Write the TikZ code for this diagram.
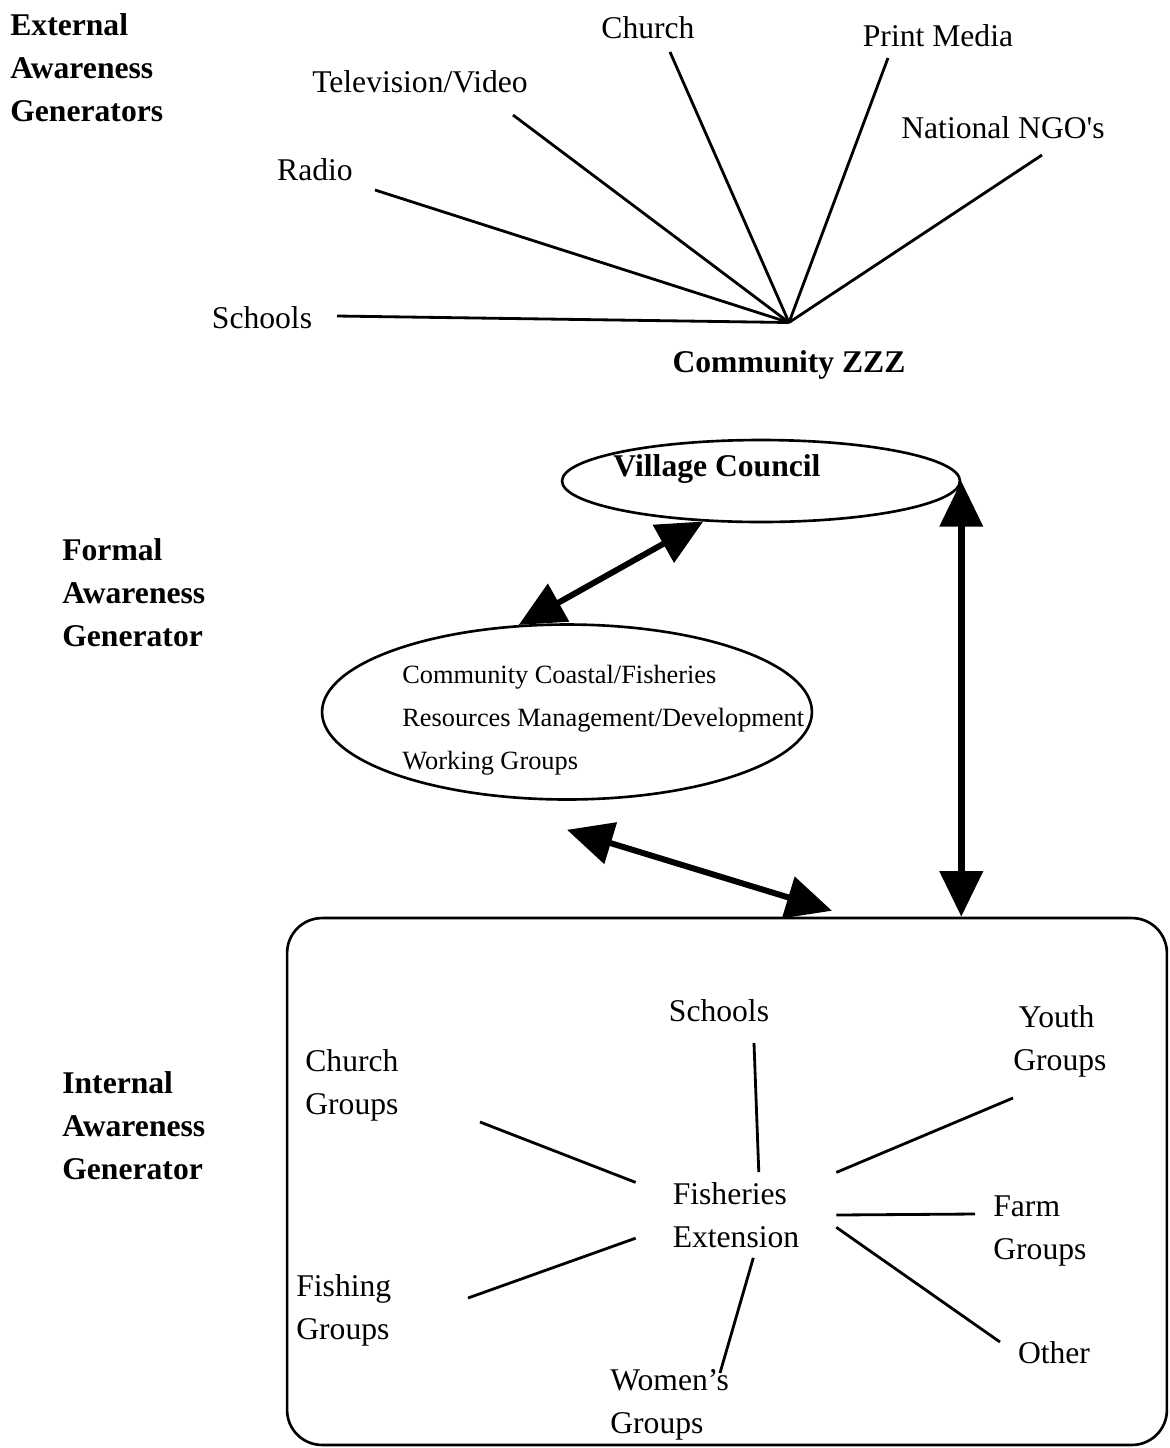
\documentclass[tikz,border=0pt]{standalone}
\usepackage{fontspec}
\setmainfont{Liberation Serif}
\usepackage{tikz}
\usetikzlibrary{arrows.meta,shapes.geometric}

\begin{document}
\begin{tikzpicture}[
  x=0.02cm, y=-0.02cm,
  lbl/.style={inner sep=0pt, align=left, font=\fontsize{18}{24.5}\selectfont},
  head/.style={lbl, font=\fontsize{18}{24.5}\selectfont\bfseries},
  small/.style={lbl, font=\fontsize{15}{24.4}\selectfont},
  spoke/.style={line width=1.6pt},
  oval/.style={draw, ellipse, line width=1.5pt, inner sep=0pt},
  dbl/.style={{Triangle[length=26pt,width=24pt]}-{Triangle[length=26pt,width=24pt]}, line width=3.4pt},
]
\useasboundingbox (0,0) rectangle (1170,1448);

% side headings
\node[head, anchor=west] (extlab) at (10,68) {External\\Awareness\\Generators};
\node[head, anchor=west] (fmlab) at (62,593) {Formal\\Awareness\\Generator};
\node[head, anchor=west] (inlab) at (62,1126) {Internal\\Awareness\\Generator};

% external generators
\node[lbl] (church) at (648,28) {Church};
\node[lbl] (print) at (938,36) {Print Media};
\node[lbl] (tv) at (420,82) {Television/Video};
\node[lbl] (ngo) at (1003,128) {National NGO\textquotesingle s};
\node[lbl] (radio) at (315,170) {Radio};
\node[lbl] (schools) at (262,318) {Schools};
\node[head, outer ysep=16pt] (comm) at (789,365) {Community ZZZ};

\coordinate (ch-e) at (670,52);
\coordinate (pm-e) at (888,58);
\coordinate (ngo-e) at (1042,155);
\coordinate (tv-e) at (513,115);
\coordinate (ra-e) at (375,190);
\coordinate (sc-e) at (337,316);
\foreach \e in {ch-e,pm-e,ngo-e,tv-e,ra-e,sc-e}
  \draw[spoke] (\e) -- (comm.north);

% formal generator
\node[oval, minimum width=7.96cm, minimum height=1.64cm] (vc) at (761,481) {};
\node[head] (vctxt) at (717,469) {Village Council};
\node[oval, minimum width=9.8cm, minimum height=3.5cm] (wg) at (567,712) {};
\node[small, anchor=west] (wgtxt) at (402,720)
  {Community Coastal/Fisheries\\Resources Management/Development\\Working Groups};

% internal generator box
\node[draw, rounded corners=0.7cm, line width=1.5pt, inner sep=0pt,
      minimum width=17.6cm, minimum height=10.54cm] (ig) at (727,1181.5) {};

\draw[dbl] (wg.119) -- (vc.215);
\draw[dbl, line width=4pt] (vc.east) -- (vc.east |- ig.north);
\draw[dbl] ([yshift=-0.58cm]wg.south) -- ([xshift=2.1cm,yshift=0.12cm]ig.north);

% internal generators
\node[lbl, minimum width=4cm, minimum height=1.7cm] (fe) at (736,1215) {Fisheries\\Extension};
\node[lbl] (ischools) at (719,1011) {Schools};
\node[lbl, anchor=west] (cgroups) at (305,1085) {Church\\Groups};
\node[lbl, anchor=west] (ygroups) at (1013,1041) {\,Youth\\Groups};
\node[lbl, anchor=west] (fagroups) at (993,1231) {Farm\\Groups};
\node[lbl] (other) at (1054,1353) {Other};
\node[lbl, anchor=west] (wgroups) at (610,1405) {Women's\\Groups};
\node[lbl, anchor=west] (figroups) at (296,1310) {Fishing\\Groups};

\coordinate (is-e) at (754,1043);
\coordinate (cg-e) at (480,1122);
\coordinate (yg-e) at (1013,1098);
\coordinate (fa-e) at (975,1214);
\coordinate (ot-e) at (1000,1342);
\coordinate (wo-e) at (720,1373);
\coordinate (fi-e) at (468,1298);

\draw[spoke] (fe.62) -- (is-e);
\draw[spoke] (fe.162) -- (cg-e);
\draw[spoke] (fe.23) -- (yg-e);
\draw[spoke] (fe.east) -- (fa-e);
\draw[spoke] (fe.-7) -- (ot-e);
\draw[spoke] (fe.-68) -- (wo-e);
\draw[spoke] (fe.193) -- (fi-e);
\end{tikzpicture}
\end{document}
